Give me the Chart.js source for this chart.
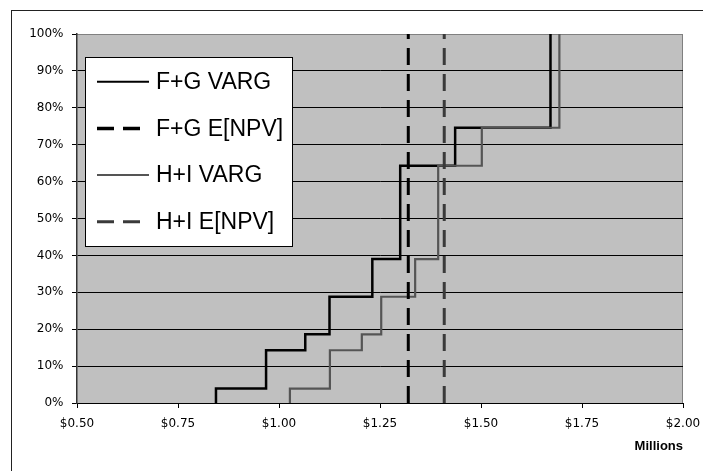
<!DOCTYPE html>
<html>
<head>
<meta charset="utf-8">
<title>VARG vs E[NPV]</title>
<style>
    html, body { margin: 0; padding: 0; background: #fff; }
    #wrap { position: relative; width: 703px; height: 471px; }
</style>
<script src="https://cdn.jsdelivr.net/npm/chart.js@4.4.1/dist/chart.umd.min.js"></script>
</head>
<body>
<div id="wrap"><canvas id="cdfChart" width="703" height="471"></canvas></div>
<script>
// values in $ millions, cumulative probability in %
const fgValues = [0.844, 0.968, 1.065, 1.125, 1.231, 1.300, 1.436, 1.672];
const hiValues = [1.027, 1.126, 1.205, 1.253, 1.337, 1.394, 1.502, 1.694];
const cumProb = [3.9, 14.3, 18.6, 28.8, 39.0, 64.3, 74.6, 100];
const fgMean = 1.320;
const hiMean = 1.409;
const seriesNames = ['F+G VARG', 'F+G E[NPV]', 'H+I VARG', 'H+I E[NPV]'];
const xTicks = [0.5, 0.75, 1.0, 1.25, 1.5, 1.75, 2.0];
const yTicks = [0, 10, 20, 30, 40, 50, 60, 70, 80, 90, 100];

document.addEventListener('DOMContentLoaded', () => {
    const ctx = document.getElementById('cdfChart').getContext('2d');

    Chart.defaults.font.family = 'DejaVu Sans';
    Chart.defaults.color = '#000';

    // staircase: start on the 0% line, then one riser per outcome
    function stepPoints(values) {
        return [{ x: values[0], y: 0 }].concat(values.map((v, i) => ({ x: v, y: cumProb[i] })));
    }

    function meanLine(v) {
        return [{ x: v, y: 0 }, { x: v, y: 100 }];
    }

    // grey plot area, outer frame
    const framePlugin = {
        id: 'frame',
        beforeDraw(chart) {
            const c = chart.ctx;
            const a = chart.chartArea;
            c.save();
            c.strokeStyle = '#222';
            c.lineWidth = 1;
            c.strokeRect(11.5, 10.5, 720, 480);
            c.fillStyle = '#C0C0C0';
            c.fillRect(a.left, a.top, a.right - a.left, a.bottom - a.top);
            c.strokeStyle = '#808080';
            c.beginPath();
            c.moveTo(a.left, a.top + 0.5);
            c.lineTo(Math.round(a.right) - 0.5, a.top + 0.5);
            c.lineTo(Math.round(a.right) - 0.5, a.bottom);
            c.stroke();
            c.restore();
        }
    };

    // boxed legend sitting inside the plot
    const boxLegend = {
        id: 'boxLegend',
        afterDraw(chart) {
            const c = chart.ctx;
            const box = { left: 85, top: 57, width: 207, height: 189 };
            c.save();
            c.fillStyle = '#fff';
            c.fillRect(box.left, box.top, box.width, box.height);
            c.strokeStyle = '#000';
            c.lineWidth = 1;
            c.strokeRect(box.left + 0.5, box.top + 0.5, box.width, box.height);

            c.font = '23px "Liberation Sans", Arial, sans-serif';
            c.textBaseline = 'middle';
            chart.data.datasets.forEach((ds, i) => {
                const y = 81.7 + i * 46.7;
                c.beginPath();
                c.setLineDash(ds.borderDash || []);
                c.strokeStyle = ds.borderColor;
                c.lineWidth = ds.legendWidth;
                c.moveTo(97, y);
                c.lineTo(149, y);
                c.stroke();
                c.setLineDash([]);
                c.fillStyle = '#000';
                c.fillText(ds.label, 156, y + 1);
            });
            c.restore();
        }
    };

    new Chart(ctx, {
        type: 'line',
        data: {
            datasets: [{
                label: seriesNames[0],
                data: stepPoints(fgValues),
                borderColor: '#000',
                borderWidth: 2.5,
                legendWidth: 2,
                stepped: 'before',
                pointRadius: 0,
                fill: false,
                order: 4
            }, {
                label: seriesNames[1],
                data: meanLine(fgMean),
                borderColor: '#000',
                borderWidth: 3,
                legendWidth: 3.5,
                borderDash: [17, 9],
                pointRadius: 0,
                fill: false,
                order: 2
            }, {
                label: seriesNames[2],
                data: stepPoints(hiValues),
                borderColor: '#555',
                borderWidth: 2.2,
                legendWidth: 2,
                stepped: 'before',
                pointRadius: 0,
                fill: false,
                order: 3
            }, {
                label: seriesNames[3],
                data: meanLine(hiMean),
                borderColor: '#3a3a3a',
                borderWidth: 3,
                legendWidth: 3,
                borderDash: [17, 9],
                pointRadius: 0,
                fill: false,
                order: 1
            }]
        },
        options: {
            responsive: false,
            animation: false,
            devicePixelRatio: 1,
            layout: { padding: { top: 34, right: 20, bottom: 0, left: 0 } },
            plugins: {
                legend: { display: false },
                tooltip: { enabled: false }
            },
            scales: {
                x: {
                    type: 'linear',
                    min: 0.5,
                    max: 2.0,
                    afterBuildTicks: scale => { scale.ticks = xTicks.map(v => ({ value: v })); },
                    afterFit: scale => {
                        scale.height = 68;
                        scale.paddingLeft = 0;
                        scale.paddingRight = 0;
                    },
                    ticks: {
                        callback: v => '$' + Number(v).toFixed(2),
                        maxRotation: 0,
                        autoSkip: false,
                        padding: 9,
                        color: '#000',
                        font: { size: 12 }
                    },
                    grid: { drawOnChartArea: false, tickLength: 5, color: '#000' },
                    border: { color: '#000', width: 1 },
                    title: {
                        display: true,
                        text: 'Millions',
                        align: 'end',
                        color: '#000',
                        font: { family: 'Liberation Sans', weight: 'bold', size: 13 },
                        padding: { top: 0, bottom: 16.5 }
                    }
                },
                y: {
                    type: 'linear',
                    min: 0,
                    max: 100,
                    afterBuildTicks: scale => { scale.ticks = yTicks.map(v => ({ value: v })); },
                    afterFit: scale => { scale.width = 77; },
                    ticks: {
                        callback: v => v + '%',
                        padding: 8.5,
                        color: '#000',
                        font: { size: 12 }
                    },
                    grid: {
                        color: c => (c.tick && c.tick.value === 100 ? '#808080' : '#000'),
                        tickColor: '#000',
                        lineWidth: 1,
                        tickLength: 5
                    },
                    border: { color: '#333', width: 1.5 }
                }
            }
        },
        plugins: [framePlugin, boxLegend]
    });
});
</script>
</body>
</html>
